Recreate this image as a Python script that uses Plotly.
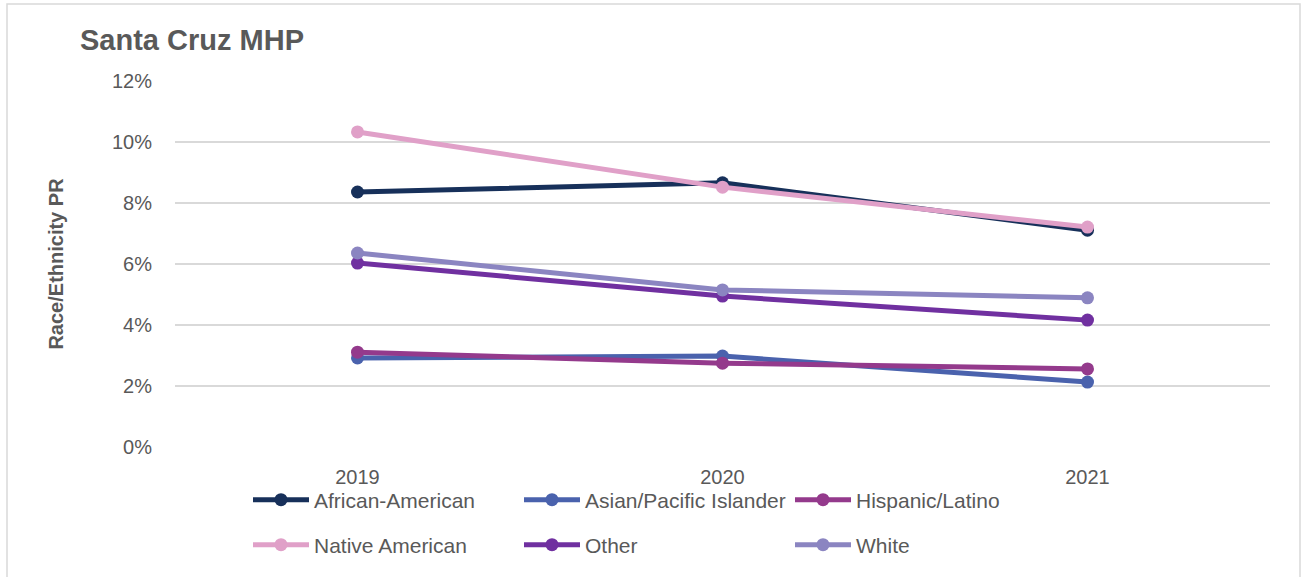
import plotly.graph_objects as go

years = ["2019", "2020", "2021"]
series_names = ["African-American", "Asian/Pacific Islander", "Hispanic/Latino",
                "Native American", "Other", "White"]
african_american = [0.0836, 0.0866, 0.0711]
asian_pacific = [0.0292, 0.0298, 0.0213]
hispanic_latino = [0.0311, 0.0275, 0.0256]
native_american = [0.1033, 0.0852, 0.0721]
other = [0.0603, 0.0495, 0.0416]
white = [0.0636, 0.0515, 0.0489]
values = [african_american, asian_pacific, hispanic_latino, native_american, other, white]
colors = ["#17305A", "#4A62AD", "#943A8C", "#E0A0C8", "#7030A0", "#8B85C1"]
y_ticks = [0, 0.02, 0.04, 0.06, 0.08, 0.10, 0.12]

fig = go.Figure()
for i, (name, vals, col) in enumerate(zip(series_names, values, colors)):
    fig.add_trace(go.Scatter(
        x=years, y=vals, name=name, mode="lines+markers",
        line=dict(color=col, width=5),
        marker=dict(color=col, size=13),
        legend="legend" if i < 3 else "legend2",
    ))

font_body = "Liberation Sans, Arial, sans-serif"
leg_common = dict(orientation="h", xanchor="left", yanchor="middle",
                  font=dict(family=font_body, size=21, color="#595959"),
                  entrywidth=200, entrywidthmode="pixels", itemwidth=56,
                  bgcolor="rgba(0,0,0,0)", traceorder="normal")

fig.update_layout(
    width=1305, height=577,
    paper_bgcolor="white", plot_bgcolor="white",
    margin=dict(l=175, r=35, t=81, b=130),
    title=dict(text="<b>Santa Cruz MHP</b>", x=80/1305, xanchor="left",
               y=1-40/577, yanchor="middle",
               font=dict(family="Liberation Sans, Arial, sans-serif", size=29, color="#595959")),
    xaxis=dict(type="category", range=[-0.5, 2.5], showgrid=False, showline=False, ticks="",
               ticklabelstandoff=16,
               tickfont=dict(family=font_body, size=20, color="#595959")),
    yaxis=dict(range=[0, 0.12], tickvals=y_ticks, tickformat=".0%",
               showgrid=True, gridcolor="#D9D9D9", gridwidth=1.5, zeroline=False,
               ticklabelstandoff=22,
               tickfont=dict(family=font_body, size=20, color="#595959"),
               title=dict(text="<b>Race/Ethnicity PR</b>", standoff=42,
                          font=dict(family="Liberation Sans, Arial, sans-serif", size=20, color="#595959"))),
    legend=dict(x=(248-175)/1095, y=-(500-447)/366, **leg_common),
    legend2=dict(x=(248-175)/1095, y=-(545-447)/366, **leg_common),
    shapes=[dict(type="rect", xref="paper", yref="paper",
                 x0=-(175-7)/1095, x1=1+(1300-1270)/1095,
                 y0=-(577-447+5)/366, y1=1+(81-4)/366,
                 line=dict(color="#D9D9D9", width=1.5), fillcolor="rgba(0,0,0,0)",
                 layer="below")],
)

fig.write_html("out.html")
